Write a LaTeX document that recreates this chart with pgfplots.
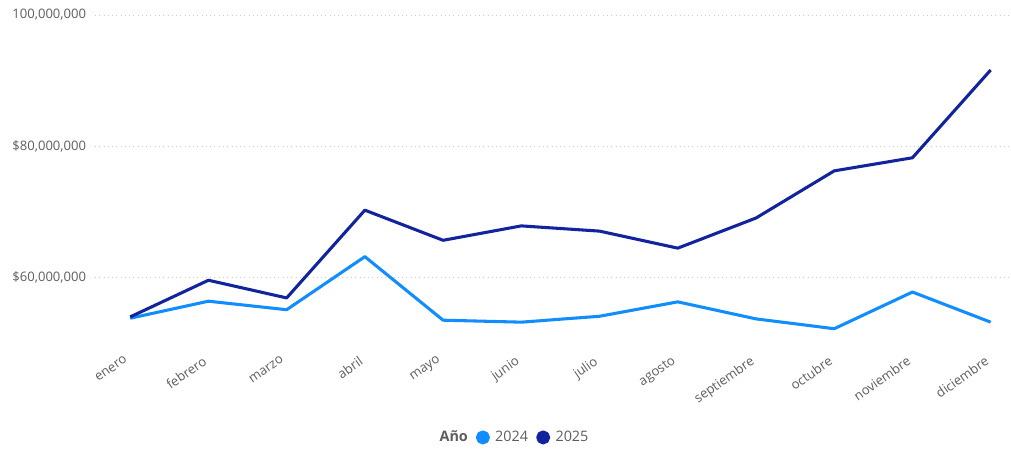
\documentclass[border=0pt]{standalone}
\usepackage{fontspec}
\setmainfont{Open Sans}
\usepackage{pgfplots}
\pgfplotsset{compat=1.18}
\definecolor{c24}{HTML}{118DFF}
\definecolor{c25}{HTML}{12239E}
\definecolor{txt}{HTML}{605E5C}
\begin{document}
\begin{tikzpicture}
\useasboundingbox (0,0) rectangle (758.25pt,336.75pt);
\begin{axis}[
  at={(71.25pt,79.9pt)}, anchor=south west,
  scale only axis, width=687pt, height=245.6pt,
  xmin=-0.45, xmax=11.26, ymin=50, ymax=100,
  axis line style={draw=none},
  tick style={draw=none},
  /pgf/number format/assume math mode=true,
  font=\fontsize{9.8}{12}\selectfont,
  ticklabel style={text=txt},
  xtick={0,...,11},
  xticklabels={enero,febrero,marzo,abril,mayo,junio,julio,agosto,septiembre,octubre,noviembre,diciembre},
  xticklabel style={rotate=35, anchor=north east, inner sep=0pt, xshift=-9.5pt, yshift=-5pt},
  ytick={60,80,100},
  yticklabels={{\$60,000,000},{\$80,000,000},{100,000,000}},
  yticklabel style={anchor=east, inner sep=0pt, xshift=-6.5pt},
  ymajorgrids,
  major grid style={gray!40, line width=0.6pt, dash pattern=on 0.6pt off 2.6pt},
  clip=false,
  legend columns=3,
  legend style={draw=none, at={(0.456,-0.29)}, anchor=center, font=\fontsize{10.8}{13}\selectfont, text=txt,
    /tikz/every odd column/.append style={column sep=2pt},
    /tikz/every even column/.append style={column sep=4pt}},
  legend image code/.code={\fill (0.2cm,0cm) circle (4.1pt);},
]
\addlegendimage{empty legend}
\addlegendentry{\textbf{Año}}
\addplot[c24, line width=2.3pt, line join=round] coordinates {
(0,53.7) (1,56.3) (2,55.0) (3,63.1) (4,53.4) (5,53.1) (6,54.0) (7,56.2) (8,53.6) (9,52.1) (10,57.7) (11,53.1)};
\addlegendentry{2024}
\addplot[c25, line width=2.3pt, line join=round] coordinates {
(0,53.9) (1,59.5) (2,56.8) (3,70.2) (4,65.6) (5,67.8) (6,67.0) (7,64.4) (8,69.0) (9,76.2) (10,78.2) (11,91.6)};
\addlegendentry{2025}
\end{axis}
\end{tikzpicture}
\end{document}
